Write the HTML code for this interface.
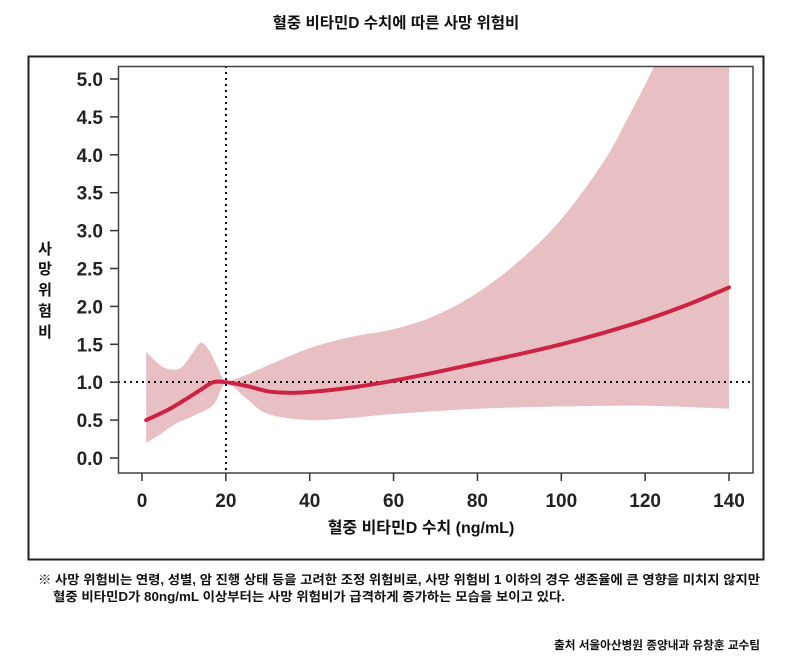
<!DOCTYPE html>
<html><head><meta charset="utf-8"><style>
html,body{margin:0;padding:0;background:#fff;}
svg{display:block;font-family:"Liberation Sans","Noto Sans CJK KR",sans-serif;}
</style></head><body>
<svg id="s" width="792" height="666" viewBox="0 0 792 666" xmlns="http://www.w3.org/2000/svg">
<defs><clipPath id="cp"><rect x="118" y="66" width="635" height="407"/></clipPath></defs>
<text x="396" y="28" text-anchor="middle" font-size="15.5" font-weight="bold" fill="#111">혈중 비타민D 수치에 따른 사망 위험비</text>
<rect x="28.5" y="56.5" width="735" height="503" fill="none" stroke="#222" stroke-width="2"/>
<path id="band" fill="#e8bfc3" stroke="none" clip-path="url(#cp)"/>
<line x1="118" y1="382" x2="753" y2="382" stroke="#111" stroke-width="2" stroke-dasharray="2,4"/>
<line x1="226" y1="66" x2="226" y2="473" stroke="#111" stroke-width="2" stroke-dasharray="2,4"/>
<path id="ln" fill="none" stroke="#cc2244" stroke-width="4" stroke-linecap="round"/>
<rect x="118.5" y="66.5" width="634.5" height="406.5" fill="none" stroke="#444" stroke-width="1.5"/>
<g id="ax" stroke="#333" stroke-width="1.5"></g>
<g id="lb" font-size="19" font-weight="bold" fill="#222"></g>
<g font-size="15" font-weight="bold" fill="#111" text-anchor="middle">
<text x="45" y="254">사</text><text x="45" y="274">망</text><text x="45" y="295">위</text><text x="45" y="316">험</text><text x="45" y="337">비</text>
</g>
<text x="421" y="533" text-anchor="middle" font-size="16" font-weight="bold" fill="#111">혈중 비타민D 수치 (ng/mL)</text>
<text x="38" y="584" font-size="12.5" font-weight="bold" fill="#111" textLength="722" lengthAdjust="spacingAndGlyphs">※ 사망 위험비는 연령, 성별, 암 진행 상태 등을 고려한 조정 위험비로, 사망 위험비 1 이하의 경우 생존율에 큰 영향을 미치지 않지만</text>
<text x="53" y="601" font-size="12.5" font-weight="bold" fill="#111" textLength="512" lengthAdjust="spacingAndGlyphs">혈중 비타민D가 80ng/mL 이상부터는 사망 위험비가 급격하게 증가하는 모습을 보이고 있다.</text>
<text x="760" y="649" text-anchor="end" font-size="11.5" font-weight="bold" fill="#111" textLength="206" lengthAdjust="spacingAndGlyphs">출처 서울아산병원 종양내과 유창훈 교수팀</text>
</svg>
<script>
var X=function(v){return 142+4.193*v},Y=function(r){return 458-75.8*r};
function cr(pts){var d="";for(var i=0;i<pts.length-1;i++){var p0=pts[Math.max(i-1,0)],p1=pts[i],p2=pts[i+1],p3=pts[Math.min(i+2,pts.length-1)];
var c1=[p1[0]+(p2[0]-p0[0])/6,p1[1]+(p2[1]-p0[1])/6],c2=[p2[0]-(p3[0]-p1[0])/6,p2[1]-(p3[1]-p1[1])/6];
d+=(i==0?"M"+p1[0]+","+p1[1]:"")+"C"+c1+" "+c2+" "+p2;}return d;}
function m(a){return a.map(function(p){return [X(p[0]),Y(p[1])]});}
var up=[[1,1.4],[5,1.2],[9,1.18],[12,1.38],[14,1.52],[16,1.42],[18,1.2],[20,1.02],[25,1.1],[30,1.22],[40,1.45],[50,1.6],[60,1.7],[70,1.88],[80,2.18],[90,2.6],[100,3.15],[110,3.9],[116,4.5],[122,5.15],[128,5.9],[140,7.5]];
var lo=[[140,0.65],[120,0.69],[100,0.68],[80,0.65],[60,0.58],[50,0.53],[40,0.5],[30,0.58],[25,0.78],[20,0.98],[17,0.7],[12,0.55],[8,0.45],[4,0.3],[1,0.2]];
var u=m(up);var d=cr(u);var l=m(lo);d+="L"+l[0]+cr(l).replace(/^M[^C]*/,"")+"Z";
document.getElementById("band").setAttribute("d",d);
var ln=[[1,0.5],[6,0.63],[10,0.76],[14,0.9],[17,1.0],[20,1.0],[25,0.95],[30,0.88],[35,0.86],[40,0.87],[50,0.93],[60,1.02],[70,1.13],[80,1.25],[90,1.37],[100,1.5],[110,1.65],[120,1.82],[130,2.02],[140,2.25]];
document.getElementById("ln").setAttribute("d",cr(m(ln)));
var ax=document.getElementById("ax"),lb=document.getElementById("lb"),h="";var t="";
for(var i=0;i<=10;i++){var y=Y(i/2);h+='<line x1="110" x2="118" y1="'+y+'" y2="'+y+'"/>';t+='<text x="103" y="'+(y+7)+'" text-anchor="end">'+(i/2).toFixed(1)+'</text>';}
for(var v=0;v<=140;v+=20){var x=X(v);h+='<line x1="'+x+'" x2="'+x+'" y1="473" y2="481"/>';t+='<text x="'+x+'" y="507" text-anchor="middle">'+v+'</text>';}
ax.innerHTML=h;lb.innerHTML=t;
</script>
</body></html>
